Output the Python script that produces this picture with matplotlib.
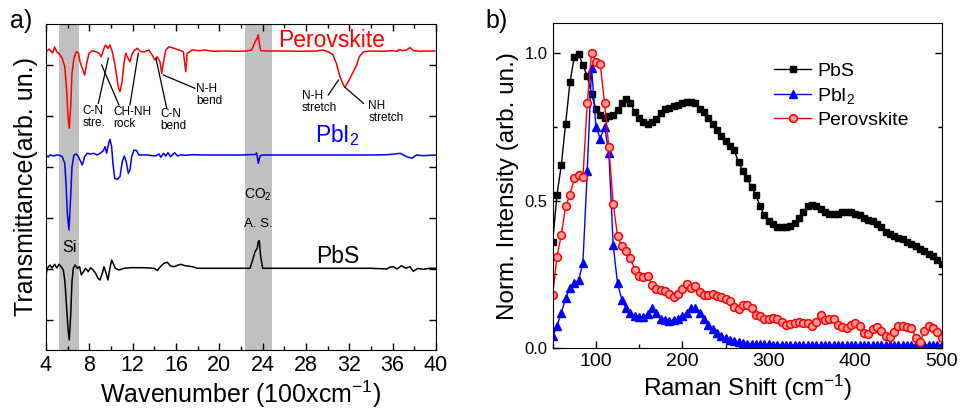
import numpy as np
import matplotlib
matplotlib.use("Agg")
import matplotlib.pyplot as plt
from matplotlib.ticker import MultipleLocator, FixedLocator

plt.rcParams['font.family'] = ['Liberation Sans', 'DejaVu Sans']
plt.rcParams['mathtext.default'] = 'regular'

# ---------------- Panel a: FTIR (transmittance, stacked, arb. un.) ----------------
perov_x = [4.0, 4.3, 4.6, 4.8, 5.0, 5.2, 5.5, 5.73, 5.91, 6.03, 6.15, 6.28, 6.4, 6.58, 6.8, 7.0,
           7.14, 7.35, 7.57, 7.76, 7.97, 8.27, 8.6, 8.9, 9.1, 9.29, 9.5, 9.73, 9.9, 10.12, 10.34,
           10.53, 10.7, 10.83, 11.0, 11.2, 11.36, 11.57, 11.75, 11.97, 12.19, 12.43, 12.74, 13.1,
           13.5, 13.8, 14.06, 14.27, 14.52, 14.68, 14.83, 15.05, 15.36, 15.8, 16.28, 16.68, 16.9,
           17.04, 17.5, 18.2, 18.6, 19.5, 20.5, 21.5, 22.5, 22.99, 23.3, 23.5, 23.6, 23.69, 23.82,
           24.5, 26, 27.5, 29, 29.5, 30.06, 30.5, 30.8, 31.14, 31.45, 31.6, 31.9, 32.37, 32.68,
           32.92, 33.3, 34, 35, 36, 36.4, 36.6, 36.9, 37.3, 37.6, 37.9, 38.5, 39.2, 40]
perov_t = [298, 301, 297, 303, 298, 296.7, 291.7, 283.3, 260, 233.3, 221.7, 243.3, 276.7, 291.7,
           298.3, 297, 288.3, 281.7, 275, 286.7, 296.7, 299.3, 298.3, 296.7, 293.3, 300, 305, 301.7,
           305, 298.3, 286.7, 273.3, 261.7, 258.3, 266.7, 286.7, 296.7, 291.7, 288.3, 296.7, 300,
           301.7, 298.3, 298.3, 300, 295, 290, 293.3, 288.3, 276.7, 286.7, 300, 303.3, 301.7, 300,
           298.3, 278.3, 296.7, 300, 299.3, 300, 298.7, 299, 298.7, 299, 300, 308.3, 311.7, 315,
           307, 299.3, 299, 299, 298.7, 299, 300, 298.3, 295, 286.7, 273.3, 265, 262.7, 268.3,
           278.3, 285, 293.3, 298.3, 299, 298.7, 299.3, 298.7, 300.5, 299.5, 300, 302.5, 299.5,
           298.7, 299, 299]

pbi2_x = [4.0, 4.2, 4.4, 4.7, 5.0, 5.2, 5.5, 5.73, 5.85, 5.97, 6.12, 6.28, 6.4, 6.58, 6.8, 7.0,
          7.2, 7.35, 7.57, 7.8, 8.1, 8.4, 8.7, 9.0, 9.29, 9.45, 9.6, 9.75, 9.9, 10.06, 10.18, 10.34,
          10.58, 10.83, 11.04, 11.23, 11.41, 11.6, 11.75, 11.91, 12.12, 12.37, 12.58, 13.35, 14.1,
          14.43, 14.6, 14.85, 15.05, 15.26, 15.5, 15.88, 16.15, 16.5, 16.8, 17.5, 18.5, 20, 22,
          23.3, 23.45, 23.6, 23.75, 24, 26, 28, 30, 32, 34, 35.5, 36.2, 36.7, 37.0, 37.3, 37.76,
          38.2, 38.8, 39.4, 40]
pbi2_t = [195, 193, 195, 194, 195, 195, 193.3, 186.7, 166.7, 136.7, 120, 153.3, 183.3, 195, 196,
          193.3, 188.3, 185, 193.3, 196.7, 196, 196.7, 195, 196.7, 199.3, 203.3, 196.7, 205, 210.7,
          203.3, 186.7, 171.7, 170.7, 173.3, 188.3, 194, 188.3, 176.7, 180, 193.3, 200, 199.3, 195,
          195, 194, 196, 192.7, 196.7, 194, 197.3, 193.3, 197.3, 194, 195.3, 194.7, 195.3, 195, 195,
          195, 195.5, 197, 186.7, 194, 195, 195, 195, 195, 195, 195, 195.3, 196, 196.7, 195, 193.3,
          191.7, 195, 194.3, 194.7, 195]

pbs_x = [4.0, 4.05, 4.12, 4.38, 4.55, 4.8, 5.0, 5.2, 5.4, 5.6, 5.75, 5.91, 6.03, 6.15, 6.28, 6.4,
         6.52, 6.68, 6.9, 7.1, 7.26, 7.46, 7.66, 7.9, 8.12, 8.35, 8.58, 8.8, 8.98, 9.2, 9.35, 9.55,
         9.72, 9.9, 10.06, 10.2, 10.4, 10.74, 11.2, 11.8, 13.05, 13.97, 14.3, 14.43, 14.65, 14.9,
         15.2, 15.5, 15.8, 16.1, 16.43, 16.75, 17.04, 17.5, 17.97, 19, 21, 22.83, 23.08, 23.3,
         23.5, 23.6, 23.69, 23.82, 24.0, 26, 30, 34, 35.45, 35.8, 36.06, 36.4, 36.83, 37.2, 37.6,
         37.9, 38.3, 38.8, 39.4, 40]
pbs_t = [70, 78, 81.7, 85, 82, 85.7, 82, 85.7, 83.3, 80, 68.3, 41.7, 21.7, 10, 35, 68.3, 81.7, 85,
         81.7, 83.3, 75, 78.3, 81.7, 78.3, 82.3, 80, 76.7, 71.7, 70, 76.7, 83.3, 76.7, 70, 81.7, 90,
         86.7, 81.7, 80, 81.7, 82.3, 82.3, 81.7, 79.5, 81.7, 84.3, 86.7, 87.7, 84, 83.3, 84.5, 85.7,
         84.5, 84, 83.3, 81.7, 81.7, 81.7, 81.7, 90, 98.3, 101.7, 108.3, 109.3, 93.3, 81.7, 81.7,
         81.7, 81.7, 81, 83, 83.3, 81, 84.3, 81.7, 83.3, 78.7, 81.5, 80.7, 81.7, 81.7]

# ---------------- Panel b: Raman (normalized intensity) ----------------
raman_x = np.arange(50, 501, 5)
raman_pbs = [0.36, 0.52, 0.62, 0.76, 0.90, 0.985, 0.995, 0.96, 0.92, 0.86, 0.81, 0.79, 0.78, 0.785,
             0.79, 0.805, 0.83, 0.845, 0.83, 0.80, 0.78, 0.765, 0.76, 0.765, 0.775, 0.795, 0.81,
             0.815, 0.82, 0.825, 0.83, 0.835, 0.835, 0.83, 0.81, 0.80, 0.78, 0.76, 0.74, 0.72,
             0.70, 0.685, 0.67, 0.63, 0.60, 0.575, 0.545, 0.52, 0.48, 0.45, 0.43, 0.42, 0.41, 0.41,
             0.41, 0.415, 0.425, 0.44, 0.46, 0.48, 0.485, 0.48, 0.47, 0.46, 0.455, 0.455, 0.455,
             0.46, 0.46, 0.46, 0.455, 0.45, 0.44, 0.435, 0.43, 0.42, 0.41, 0.395, 0.388, 0.38,
             0.375, 0.37, 0.36, 0.352, 0.345, 0.335, 0.33, 0.32, 0.314, 0.30, 0.285]
raman_pbi2 = [0.04, 0.075, 0.12, 0.17, 0.205, 0.22, 0.23, 0.29, 0.60, 0.95, 0.75, 0.71, 0.75, 0.66,
              0.35, 0.22, 0.165, 0.135, 0.12, 0.11, 0.105, 0.105, 0.115, 0.135, 0.12, 0.10, 0.095,
              0.093, 0.095, 0.10, 0.108, 0.12, 0.135, 0.138, 0.12, 0.10, 0.08, 0.065, 0.052, 0.042,
              0.034, 0.028, 0.024, 0.02, 0.018, 0.016, 0.015, 0.014, 0.014, 0.013, 0.013, 0.012,
              0.012, 0.012, 0.012, 0.011, 0.011, 0.011, 0.011, 0.011, 0.011, 0.010, 0.010, 0.010,
              0.010, 0.010, 0.010, 0.010, 0.010, 0.010, 0.010, 0.010, 0.010, 0.010, 0.010, 0.010,
              0.010, 0.010, 0.010, 0.010, 0.010, 0.010, 0.010, 0.010, 0.010, 0.010, 0.010, 0.010,
              0.010, 0.010, 0.010]
raman_perov = [0.18, 0.31, 0.385, 0.48, 0.52, 0.575, 0.585, 0.58, 0.83, 1.0, 0.97, 0.962, 0.83,
               0.68, 0.49, 0.38, 0.345, 0.33, 0.305, 0.265, 0.245, 0.24, 0.245, 0.215, 0.20, 0.198,
               0.195, 0.185, 0.172, 0.185, 0.20, 0.218, 0.205, 0.21, 0.19, 0.18, 0.182, 0.185,
               0.178, 0.172, 0.168, 0.16, 0.14, 0.133, 0.145, 0.148, 0.135, 0.112, 0.108, 0.10,
               0.10, 0.102, 0.10, 0.09, 0.078, 0.082, 0.085, 0.088, 0.085, 0.085, 0.075, 0.09,
               0.112, 0.095, 0.098, 0.10, 0.08, 0.072, 0.07, 0.078, 0.085, 0.075, 0.052, 0.05,
               0.065, 0.073, 0.058, 0.04, 0.038, 0.055, 0.077, 0.075, 0.072, 0.068, 0.035, 0.022,
               0.06, 0.075, 0.068, 0.055, 0.035]

fig = plt.figure(figsize=(9.62, 4.09), dpi=100)

# ---------------- Panel a ----------------
ax1 = fig.add_axes([0.0478, 0.1443, 0.4054, 0.797])
ax1.axvspan(5.2, 7.05, color='#c0c0c0', lw=0, zorder=0)
ax1.axvspan(22.35, 24.85, color='#c0c0c0', lw=0, zorder=0)
ax1.plot(perov_x, perov_t, color='#ff0000', lw=1.1)
ax1.plot(pbi2_x, pbi2_t, color='#0000ff', lw=1.1)
ax1.plot(pbs_x, pbs_t, color='black', lw=1.1)
ax1.set_xlim(4, 40)
ax1.set_ylim(0, 326)
ax1.xaxis.set_major_locator(MultipleLocator(4))
ax1.xaxis.set_minor_locator(MultipleLocator(2))
ax1.yaxis.set_major_locator(FixedLocator([30, 81, 132, 183, 234, 285]))
ax1.tick_params(which='both', direction='in', top=True, right=True, width=1)
ax1.tick_params(which='major', length=5, labelsize=15.5)
ax1.tick_params(which='minor', length=3)
ax1.tick_params(axis='y', labelleft=False)
ax1.set_xlabel('Wavenumber (100xcm$^{-1}$)', fontsize=18, labelpad=2)
ax1.set_ylabel('Transmittance(arb. un.)', fontsize=18, labelpad=6)

ax1.text(25.44, 303.3, 'Perovskite', color='#ff0000', fontsize=16.5, va='baseline')
ax1.text(28.8, 208, 'PbI$_2$', color='#0000ff', fontsize=16.5, va='baseline')
ax1.text(28.9, 87, 'PbS', color='black', fontsize=16.5, va='baseline')
ax1.text(6.15, 98.3, 'Si', fontsize=11.5, ha='center', va='baseline')
ax1.text(23.6, 151, 'CO$_2$', fontsize=10, ha='center', va='baseline')
ax1.text(23.6, 123, 'A. S.', fontsize=9.5, ha='center', va='baseline')

ann_fs = 8.5
ax1.text(7.35, 245, 'C-N\nstre.', fontsize=ann_fs, va='top', linespacing=0.95)
ax1.text(10.2, 244, 'CH-NH\nrock', fontsize=ann_fs, va='top', linespacing=0.95)
ax1.text(14.58, 242, 'C-N\nbend', fontsize=ann_fs, va='top', linespacing=0.95)
ax1.text(17.85, 266.7, 'N-H\nbend', fontsize=ann_fs, va='top', linespacing=0.95)
ax1.text(27.6, 260, 'N-H\nstretch', fontsize=ann_fs, va='top', linespacing=0.95)
ax1.text(33.75, 250, 'NH\nstretch', fontsize=ann_fs, va='top', linespacing=0.95)
for (xa, ya), (xb, yb) in [((8.83, 246.7), (9.75, 291.7)),
                           ((10.74, 245), (9.14, 285)),
                           ((11.75, 245), (12.52, 296.7)),
                           ((15.14, 242), (14.15, 291.7)),
                           ((17.75, 261.7), (14.83, 275)),
                           ((30.06, 255), (31.0, 270)),
                           ((33.3, 246.7), (31.6, 262.7))]:
    ax1.plot([xa, xb], [ya, yb], color='black', lw=0.9)

fig.text(0.010, 0.948, 'a)', fontsize=18, va='center')

# ---------------- Panel b ----------------
ax2 = fig.add_axes([0.5745, 0.1484, 0.4044, 0.7946])
ax2.plot(raman_x, raman_pbs, color='black', lw=1.0, marker='s', ms=4.6, mec='black', mfc='black',
         label='PbS')
ax2.plot(raman_x, raman_pbi2, color='#0000ff', lw=1.0, marker='^', ms=5.2, mec='#0000ff',
         mfc='#0000ff', label='PbI$_2$')
ax2.plot(raman_x, raman_perov, color='#ff0000', lw=1.0, marker='o', ms=5.6, mec='#ff0000',
         mfc='#ff9a9a', mew=1.1, label='Perovskite')
ax2.set_xlim(50, 500)
ax2.set_ylim(0, 1.1)
ax2.xaxis.set_major_locator(MultipleLocator(100))
ax2.xaxis.set_minor_locator(MultipleLocator(50))
ax2.yaxis.set_major_locator(FixedLocator([0, 0.5, 1.0]))
ax2.yaxis.set_minor_locator(MultipleLocator(0.25))
ax2.yaxis.set_major_formatter(matplotlib.ticker.FormatStrFormatter('%.1f'))
ax2.tick_params(which='both', direction='in', right=True, width=1)
ax2.tick_params(which='major', length=5)
ax2.tick_params(which='minor', length=3)
ax2.tick_params(axis='x', labelsize=14)
ax2.tick_params(axis='y', labelsize=12)
ax2.set_xlabel('Raman Shift (cm$^{-1}$)', fontsize=17.5, labelpad=2)
ax2.set_ylabel('Norm. Intensity (arb. un.)', fontsize=17.5, labelpad=4)
ax2.legend(loc='upper left', bbox_to_anchor=(0.545, 0.91), frameon=False, fontsize=14,
           handlelength=1.9, handletextpad=0.3, labelspacing=0.3, borderpad=0)

fig.text(0.505, 0.948, 'b)', fontsize=18, va='center')

fig.savefig('out.png', dpi=100)
